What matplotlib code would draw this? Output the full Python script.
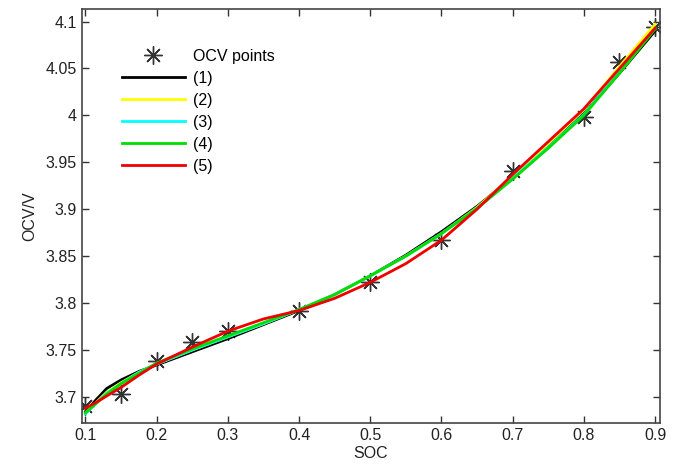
import numpy as np
import matplotlib
matplotlib.use("Agg")
import matplotlib.pyplot as plt

plt.rcParams['font.family'] = ['Liberation Sans', 'DejaVu Sans']

# measured OCV points
soc_pts = [0.1, 0.15, 0.2, 0.25, 0.3, 0.4, 0.5, 0.6, 0.7, 0.8, 0.85, 0.9]
ocv_pts = [3.690, 3.703, 3.738, 3.758, 3.770, 3.792, 3.822, 3.867, 3.941, 3.998, 4.057, 4.094]

# fitted curves, read at these SOC values
soc_fit = [0.1, 0.115, 0.13, 0.15, 0.175, 0.2, 0.25, 0.3, 0.35, 0.4, 0.45,
           0.5, 0.55, 0.6, 0.65, 0.7, 0.75, 0.8, 0.85, 0.9]
fit1 = [3.684, 3.697, 3.709, 3.718, 3.727, 3.734, 3.748, 3.762, 3.777, 3.792, 3.809,
        3.829, 3.851, 3.876, 3.903, 3.934, 3.967, 4.002, 4.045, 4.090]
fit2 = [3.683, 3.694, 3.705, 3.715, 3.726, 3.735, 3.750, 3.764, 3.778, 3.793, 3.809,
        3.829, 3.850, 3.874, 3.902, 3.935, 3.970, 4.006, 4.052, 4.097]
fit3 = [3.682, 3.693, 3.704, 3.714, 3.726, 3.735, 3.750, 3.764, 3.778, 3.793, 3.809,
        3.829, 3.850, 3.874, 3.901, 3.933, 3.966, 4.001, 4.046, 4.093]
fit4 = [3.683, 3.693, 3.703, 3.714, 3.725, 3.736, 3.751, 3.765, 3.779, 3.793, 3.809,
        3.829, 3.850, 3.874, 3.901, 3.932, 3.965, 4.000, 4.045, 4.092]
fit5 = [3.688, 3.694, 3.701, 3.710, 3.723, 3.735, 3.753, 3.770, 3.783, 3.792, 3.805,
        3.822, 3.842, 3.867, 3.900, 3.937, 3.972, 4.007, 4.050, 4.093]

fits = [fit1, fit2, fit3, fit4, fit5]
labels = ['(1)', '(2)', '(3)', '(4)', '(5)']
colors = ['black', '#ffff00', '#00ffff', '#00dd00', '#ee0000']

fig = plt.figure(figsize=(6.77, 4.67), dpi=100)
ax = fig.add_axes([0.121, 0.094, 0.854, 0.886])

ax.plot(soc_pts, ocv_pts, linestyle='none', marker=(8, 2, 0), markersize=13,
        mew=1.0, color='#333333', label='OCV points')
for y, lab, c in zip(fits, labels, colors):
    ax.plot(soc_fit, y, color=c, lw=2.0, label=lab)

ax.set_xlim(0.095, 0.907)
ax.set_ylim(3.672, 4.113)
ax.set_xticks(np.arange(0.1, 0.91, 0.1))
ax.set_xticklabels(['0.1', '0.2', '0.3', '0.4', '0.5', '0.6', '0.7', '0.8', '0.9'])
ax.set_yticks([3.7, 3.75, 3.8, 3.85, 3.9, 3.95, 4.0, 4.05, 4.1])
ax.set_yticklabels(['3.7', '3.75', '3.8', '3.85', '3.9', '3.95', '4', '4.05', '4.1'])
ax.tick_params(direction='in', top=True, right=True, length=5, width=1,
               labelsize=11.5, colors='#333333', labelcolor='#222222')
for s in ax.spines.values():
    s.set_color('#444444')
    s.set_linewidth(1.2)

ax.set_xlabel('SOC', fontsize=11.5, color='#222222', labelpad=2)
ax.set_ylabel('OCV/V', fontsize=11.5, color='#222222', labelpad=6)

ax.legend(loc='upper left', bbox_to_anchor=(0.045, 0.94), frameon=False,
          fontsize=11.5, handlelength=3.9, handletextpad=0.55, labelspacing=0.44)

fig.savefig('out.png', dpi=100)
